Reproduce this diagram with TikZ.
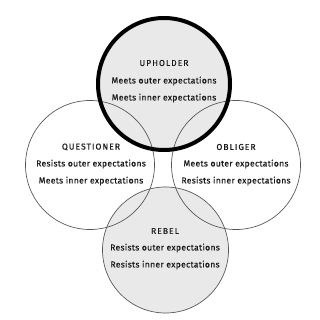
\documentclass[tikz,border=0pt]{standalone}
\usepackage{fontspec}
\setmainfont[LetterSpace=3,FakeBold=0.35]{Fira Sans}
\newfontfamily\capsfont[LetterSpace=12,FakeBold=0.35]{Fira Sans}
\definecolor{fillgray}{HTML}{E9E9EA}
\definecolor{linegray}{HTML}{555555}
\definecolor{txt}{HTML}{1A1A1A}
\begin{document}
\begin{tikzpicture}[x=0.75pt,y=-0.75pt,
  ring/.style={draw=linegray,line width=0.5pt},
  heavyring/.style={draw=black,line width=3pt},
  title/.style={font=\capsfont\fontsize{6.4}{7}\selectfont,text=txt,inner sep=0pt},
  body/.style={font=\fontsize{6.5}{7}\selectfont,text=txt,inner sep=0pt}]
\useasboundingbox (0,0) rectangle (319,320);
\fill[white] (0,0) rectangle (319,320);
% gray fills
\fill[fillgray] (164,84) circle[radius=66*0.75pt];
\fill[fillgray] (165.5,250) circle[radius=63*0.75pt];
% outlines
\draw[ring] (90,165) circle[radius=64.5*0.75pt];
\draw[ring] (236,165) circle[radius=64.5*0.75pt];
\draw[ring] (165.5,250) circle[radius=63*0.75pt];
\draw[heavyring] (164,84) circle[radius=66*0.75pt];
% texts
\node[title] (u0) at (164,63) {UPHOLDER};
\node[body] (u1) at (164,81) {Meets outer expectations};
\node[body] (u2) at (164,98) {Meets inner expectations};
\node[title] (q0) at (91,147) {QUESTIONER};
\node[body] (q1) at (91,164) {Resists outer expectations};
\node[body] (q2) at (91,181) {Meets inner expectations};
\node[title] (o0) at (236,147) {OBLIGER};
\node[body] (o1) at (236,164) {Meets outer expectations};
\node[body] (o2) at (236,181) {Resists inner expectations};
\node[title] (r0) at (165,231) {REBEL};
\node[body] (r1) at (165,248) {Resists outer expectations};
\node[body] (r2) at (165,265) {Resists inner expectations};
\end{tikzpicture}
\end{document}
